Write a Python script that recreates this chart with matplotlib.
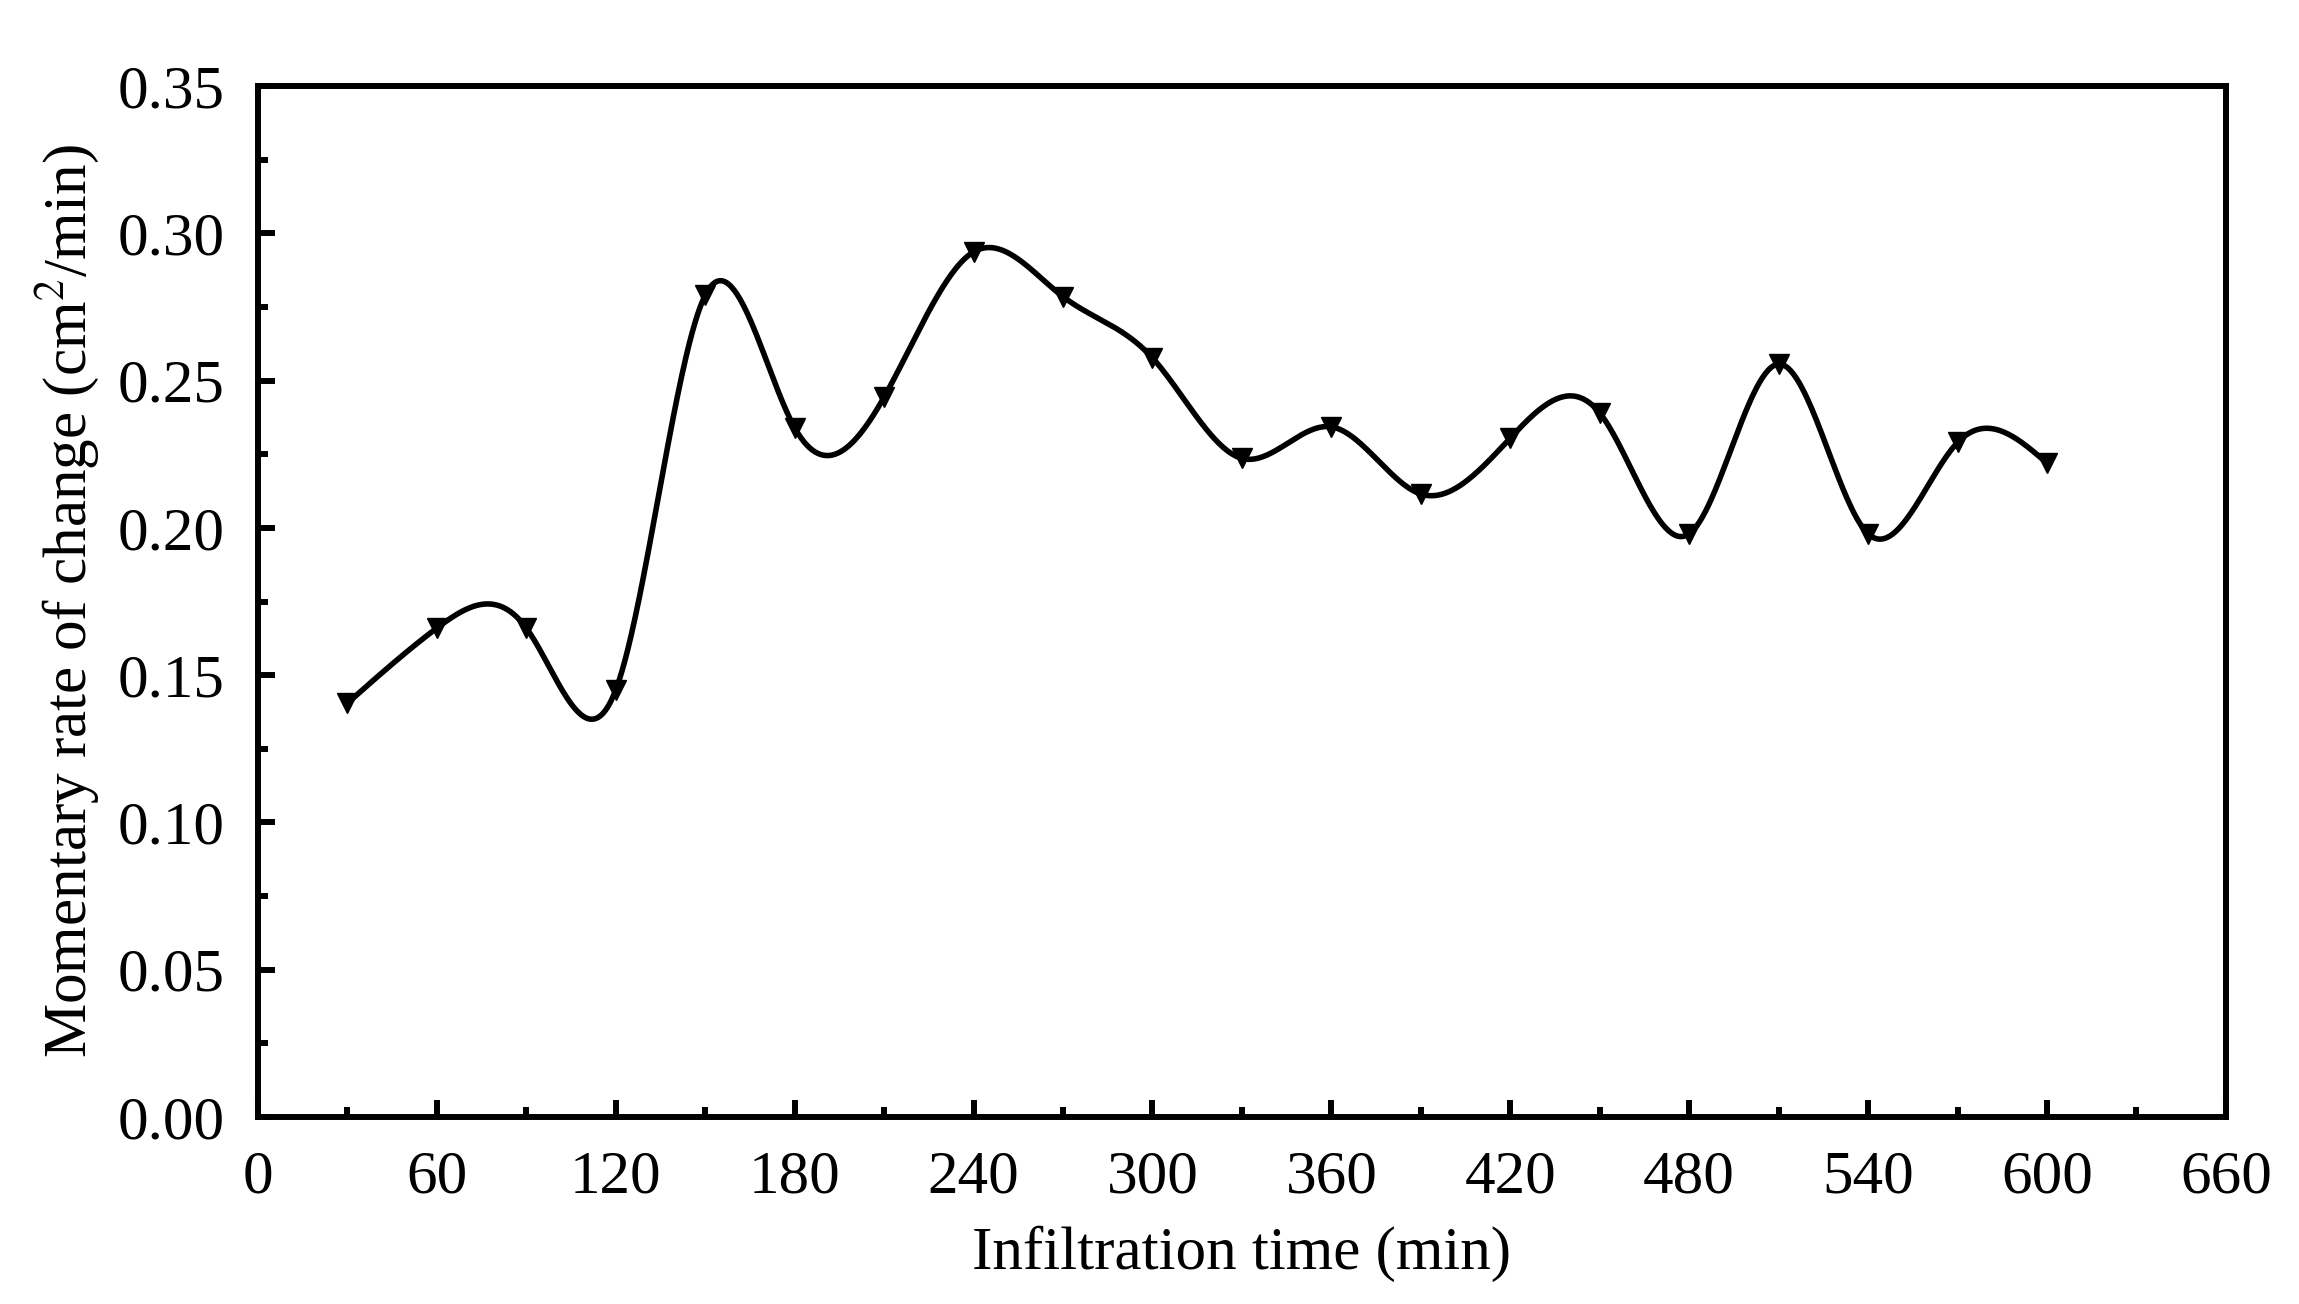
import numpy as np
import matplotlib
matplotlib.use("Agg")
import matplotlib.pyplot as plt

# data
time = [30, 60, 90, 120, 150, 180, 210, 240, 270, 300,
        330, 360, 390, 420, 450, 480, 510, 540, 570, 600]
rate = [0.1405, 0.166, 0.166, 0.145, 0.279, 0.234, 0.2444, 0.2937, 0.2785, 0.2577,
        0.2236, 0.2343, 0.2115, 0.2305, 0.239, 0.198, 0.2556, 0.198, 0.229, 0.222]

xticks = [0, 60, 120, 180, 240, 300, 360, 420, 480, 540, 600, 660]
yticks = [0.00, 0.05, 0.10, 0.15, 0.20, 0.25, 0.30, 0.35]


def natural_spline(x, y, n=1200):
    # natural cubic spline through the points, like Origin's spline connector
    x = np.asarray(x, float)
    y = np.asarray(y, float)
    k = len(x)
    h = np.diff(x)
    A = np.zeros((k, k))
    b = np.zeros(k)
    A[0, 0] = 1
    A[-1, -1] = 1
    for i in range(1, k - 1):
        A[i, i - 1] = h[i - 1]
        A[i, i] = 2 * (h[i - 1] + h[i])
        A[i, i + 1] = h[i]
        b[i] = 3 * ((y[i + 1] - y[i]) / h[i] - (y[i] - y[i - 1]) / h[i - 1])
    c = np.linalg.solve(A, b)
    xs = np.linspace(x[0], x[-1], n)
    idx = np.clip(np.searchsorted(x, xs) - 1, 0, k - 2)
    dx = xs - x[idx]
    hi = h[idx]
    bb = (y[idx + 1] - y[idx]) / hi - hi * (2 * c[idx] + c[idx + 1]) / 3
    dd = (c[idx + 1] - c[idx]) / (3 * hi)
    ys = y[idx] + bb * dx + c[idx] * dx ** 2 + dd * dx ** 3
    return xs, ys


plt.rcParams['font.family'] = ['Liberation Serif', 'DejaVu Serif']
plt.rcParams['mathtext.fontset'] = 'stix'

fig = plt.figure(figsize=(22.99, 13.04), dpi=100)
ax = fig.add_axes([0.1122, 0.1434, 0.8560, 0.7906])

xs, ys = natural_spline(time, rate)
ax.plot(xs, ys, color='black', linewidth=4)
ax.plot(time, rate, linestyle='none', marker='v', markersize=15, color='black')

ax.set_xlim(0, 660)
ax.set_ylim(0, 0.35)
ax.set_xticks(xticks)
ax.set_yticks(yticks)
ax.set_xticks(range(30, 660, 60), minor=True)
ax.set_yticks(np.arange(0.025, 0.35, 0.05), minor=True)
ax.set_yticklabels(["%.2f" % v for v in yticks])

for s in ax.spines.values():
    s.set_linewidth(4.3)
ax.tick_params(which='both', direction='in', top=False, right=False, width=4.3,
               labelsize=44, pad=24)
ax.tick_params(which='major', length=12)
ax.tick_params(which='minor', length=7)

ax.set_xlabel("Infiltration time (min)", fontsize=44, labelpad=14)
ax.set_ylabel("Momentary rate of change (cm$^2$/min)", fontsize=44, labelpad=12)

fig.savefig("out.png", dpi=100)
